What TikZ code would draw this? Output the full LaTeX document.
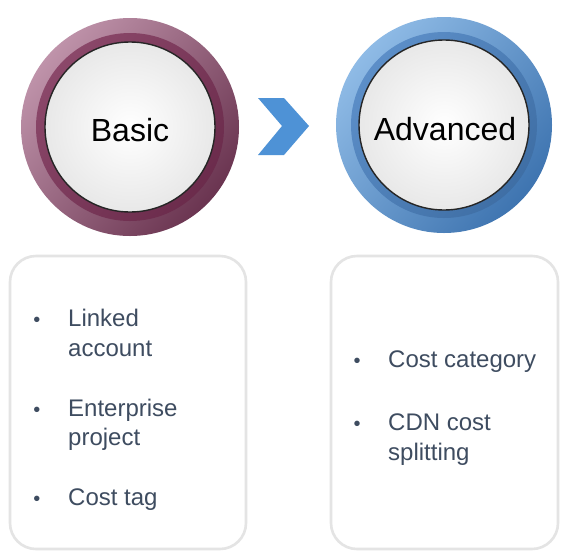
\documentclass[tikz,border=0pt]{standalone}
\usepackage{fontspec}
\setmainfont{Liberation Sans}
\begin{document}
\begin{tikzpicture}[x=1pt,y=-1pt,
  txt/.style={anchor=base west,inner sep=0pt,text=textc,font=\fontsize{24}{29}\selectfont},
  bul/.style={anchor=base,inner sep=0pt,text=textc,font=\fontsize{20}{24}\selectfont},
  panel/.style={draw=boxc,line width=2.6pt,rounded corners=26pt,fill=white},
  title/.style={inner sep=0pt,font=\fontsize{32}{38}\selectfont,text=black}]
\definecolor{textc}{HTML}{3E4C60}
\definecolor{boxc}{HTML}{E4E4E4}
\definecolor{mauveL}{HTML}{BF93AA}
\definecolor{mauveD}{HTML}{6A3450}
\definecolor{mauveB}{HTML}{7E3359}
\definecolor{blueL}{HTML}{8FBBE6}
\definecolor{blueD}{HTML}{3E74B0}
\definecolor{blueB}{HTML}{4A82C2}
\definecolor{chev}{HTML}{4E92D6}
\useasboundingbox (0,0) rectangle (561,552);
\fill[white] (0,0) rectangle (561,552);
% Basic disc
\coordinate (cb) at (130,127);
\shade[top color=mauveL,bottom color=mauveD,shading angle=50] (cb) circle[radius=109pt];
\shade[top color=mauveB!90!white,bottom color=mauveB!85!black,shading angle=50] (cb) circle[radius=94pt];
\shade[inner color=white,outer color=black!9] (cb) circle[radius=85pt];
\draw[black!85,line width=1.4pt] (cb) circle[radius=85pt];
\node[title] (basic) at (130,130) {Basic};
% Advanced disc
\coordinate (ca) at (444,125);
\shade[top color=blueL,bottom color=blueD,shading angle=50] (ca) circle[radius=108pt];
\shade[top color=blueB!90!white,bottom color=blueB!85!black,shading angle=50] (ca) circle[radius=93pt];
\shade[inner color=white,outer color=black!9] (ca) circle[radius=85pt];
\draw[black!85,line width=1.4pt] (ca) circle[radius=85pt];
\node[title] (adv) at (445,129) {Advanced};
% chevron
\fill[chev] (258,98) -- (284,98) -- (309,126) -- (284,155) -- (258,155) -- (282,126) -- cycle;
% panels
\draw[panel] (10,256) rectangle (246,549);
\draw[panel] (331,256) rectangle (558,549);
% left items
\node[bul] (b1) at (37,326) {•};
\node[txt] (t1) at (68,326) {Linked};
\node[txt] (t1b) at (68,356) {account};
\node[bul] (b2) at (37,416) {•};
\node[txt] (t2) at (68,416) {Enterprise};
\node[txt] (t2b) at (68,445) {project};
\node[bul] (b3) at (37,505) {•};
\node[txt] (t3) at (68,505) {Cost tag};
% right items
\node[bul] (b4) at (357,367) {•};
\node[txt] (t4) at (388,367) {Cost category};
\node[bul] (b5) at (357,430) {•};
\node[txt] (t5) at (388,430) {CDN cost};
\node[txt] (t5b) at (388,460) {splitting};
\end{tikzpicture}
\end{document}
